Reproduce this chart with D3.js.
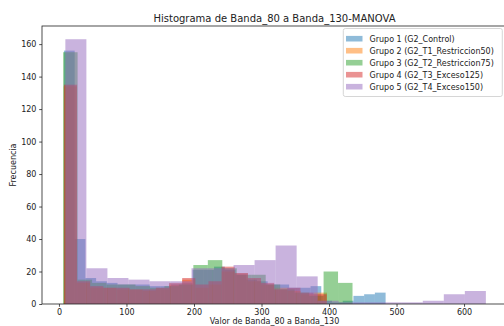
<!DOCTYPE html>
<html>
<head>
<meta charset="utf-8">
<script src="https://cdn.jsdelivr.net/npm/d3@7"></script>
<style>
  html, body { margin: 0; padding: 0; background: #ffffff; }
  svg { display: block; font-family: "DejaVu Sans", sans-serif; }
</style>
</head>
<body>
<svg id="chart" width="504" height="326"></svg>
<script>
// Overlaid histograms, one per group, each binned into equal bins over its own range.
const groupLabels = [
  "Grupo 1 (G2_Control)",
  "Grupo 2 (G2_T1_Restriccion50)",
  "Grupo 3 (G2_T2_Restriccion75)",
  "Grupo 4 (G2_T3_Exceso125)",
  "Grupo 5 (G2_T4_Exceso150)"
];
const groupColors = ["#1f77b4", "#ff7f0e", "#2ca02c", "#d62728", "#9467bd"];

// [min, max] of the values in each group (bin range)
const binRanges = [
  [7.4, 483.8],
  [7.0, 397.0],
  [6.2, 434.8],
  [7.4, 396.6],
  [9.5, 632.3]
];

// Frequencies per bin
const countsG1 = [156, 40, 16, 14, 13, 12, 12, 12, 11, 11, 12, 13, 21, 21, 23,
                  21, 18, 15, 14, 12, 12, 10, 10, 11, 2, 1, 2, 5, 6, 7];
const countsG2 = [134, 13, 10, 10, 9, 9, 8, 9, 12, 15, 10, 12, 20, 19, 14, 12, 10, 8, 6, 7];
const countsG3 = [155, 15, 13, 12, 12, 11, 10, 11, 12, 24, 27, 22, 18, 18, 12, 9, 7, 5, 20, 13];
const countsG4 = [135, 14, 11, 10, 10, 9, 9, 10, 13, 16, 12, 14, 23, 19, 16, 13, 9, 10, 7, 6];
const countsG5 = [163, 22, 16, 15, 14, 14, 22, 22, 24, 27, 36, 17, 2, 1, 1, 1, 1, 2, 6, 8];
const groupCounts = [countsG1, countsG2, countsG3, countsG4, countsG5];

const xTicks = [0, 100, 200, 300, 400, 500, 600];
const yTicks = [0, 20, 40, 60, 80, 100, 120, 140, 160];

const chartTitle = "Histograma de Banda_80 a Banda_130-MANOVA";
const xLabel = "Valor de Banda_80 a Banda_130";
const yLabel = "Frecuencia";

// Layout
const plot = { left: 42, right: 507, top: 26, bottom: 304 };
const fontSize = 8;
const titleSize = 10;

const svg = d3.select("#chart");

// Build bins for each group
const series = groupCounts.map((counts, gi) => {
  const [lo, hi] = binRanges[gi];
  const w = (hi - lo) / counts.length;
  return counts.map((c, i) => ({ x0: lo + i * w, x1: lo + (i + 1) * w, count: c }));
});

const dataMin = d3.min(binRanges, d => d[0]);
const dataMax = d3.max(binRanges, d => d[1]);
const pad = (dataMax - dataMin) * 0.05;
const x = d3.scaleLinear().domain([dataMin - pad, dataMax + pad]).range([plot.left, plot.right]);
const yMax = d3.max(groupCounts, c => d3.max(c)) * 1.05;
const y = d3.scaleLinear().domain([0, yMax]).range([plot.bottom, plot.top]);

// Bars
series.forEach((bins, gi) => {
  svg.append("g")
    .attr("fill", groupColors[gi])
    .attr("fill-opacity", 0.5)
    .selectAll("rect")
    .data(bins.filter(b => b.count > 0))
    .join("rect")
      .attr("x", d => x(d.x0))
      .attr("width", d => x(d.x1) - x(d.x0))
      .attr("y", d => y(d.count))
      .attr("height", d => y(0) - y(d.count));
});

// Axes
const xAxis = svg.append("g")
  .attr("transform", `translate(0,${plot.bottom})`)
  .call(d3.axisBottom(x).tickValues(xTicks).tickFormat(d3.format("d")).tickSize(2.8).tickPadding(2.8));
const yAxis = svg.append("g")
  .attr("transform", `translate(${plot.left},0)`)
  .call(d3.axisLeft(y).tickValues(yTicks).tickFormat(d3.format("d")).tickSize(2.8).tickPadding(2.8));
[xAxis, yAxis].forEach(a => {
  a.select(".domain").remove();
  a.selectAll("line").attr("stroke", "#222").attr("stroke-width", 0.8);
  a.selectAll("text").attr("fill", "#222").style("font-size", fontSize + "px").style("font-family", "DejaVu Sans");
});

// Frame
svg.append("rect")
  .attr("x", plot.left).attr("y", plot.top)
  .attr("width", plot.right - plot.left).attr("height", plot.bottom - plot.top)
  .attr("fill", "none").attr("stroke", "#222").attr("stroke-width", 0.8);

// Title and axis labels
svg.append("text")
  .attr("x", (plot.left + plot.right) / 2).attr("y", 21.5)
  .attr("text-anchor", "middle").attr("fill", "#222")
  .style("font-size", titleSize + "px")
  .text(chartTitle);
svg.append("text")
  .attr("x", (plot.left + plot.right) / 2).attr("y", 323.5)
  .attr("text-anchor", "middle").attr("fill", "#222")
  .style("font-size", fontSize + "px")
  .text(xLabel);
svg.append("text")
  .attr("transform", `translate(16,${(plot.top + plot.bottom) / 2}) rotate(-90)`)
  .attr("text-anchor", "middle").attr("fill", "#222")
  .style("font-size", fontSize + "px")
  .text(yLabel);

// Legend
const legend = svg.append("g");
legend.append("rect")
  .attr("x", 343.3).attr("y", 28.5).attr("width", 159).attr("height", 68)
  .attr("rx", 2).attr("fill", "#ffffff").attr("fill-opacity", 0.8)
  .attr("stroke", "#cccccc").attr("stroke-width", 0.8);
groupLabels.forEach((label, i) => {
  const cy = 38.7 + i * 12;
  legend.append("rect")
    .attr("x", 346).attr("y", cy - 2.8).attr("width", 16.5).attr("height", 5.6)
    .attr("fill", groupColors[i]).attr("fill-opacity", 0.5);
  legend.append("text")
    .attr("x", 369.5).attr("y", cy + 2.9)
    .attr("fill", "#222")
    .style("font-size", fontSize + "px")
    .text(label);
});
</script>
</body>
</html>
